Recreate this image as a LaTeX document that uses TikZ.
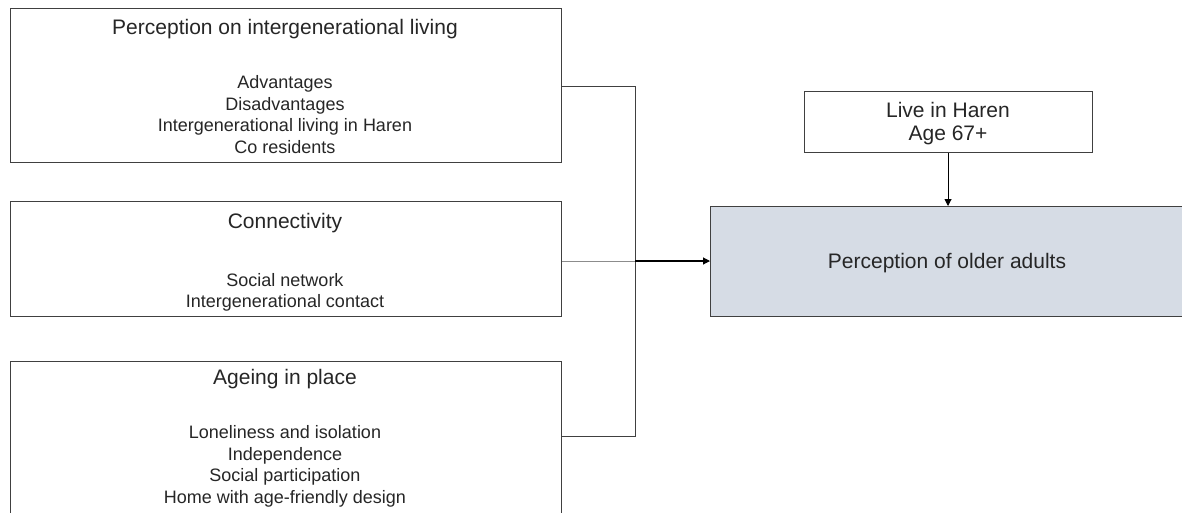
\documentclass[tikz,border=0pt]{standalone}
\usepackage{fontspec}
\setmainfont{Liberation Sans}
\usetikzlibrary{arrows.meta}
\definecolor{boxline}{HTML}{404040}
\definecolor{tgtfill}{HTML}{D6DCE5}
\definecolor{lightline}{HTML}{8C8C8C}
\tikzset{
  box/.style={draw=boxline, line width=1pt, fill=white, anchor=north west, inner sep=0pt},
  txt/.style={inner sep=0pt, anchor=base, font=\fontsize{18}{21}\selectfont, text=black!85},
  ttl/.style={inner sep=0pt, anchor=base, font=\fontsize{21}{24}\selectfont, text=black!85},
  conn/.style={draw=boxline, line width=1pt},
  arr/.style={draw=black, line width=1.1pt, -{Triangle[length=7pt,width=7pt]}},
}
\begin{document}
\begin{tikzpicture}[x=1pt,y=-1pt]
\useasboundingbox (0,0) rectangle (1182,512);
\clip (0,0) rectangle (1182,512);
\fill[white] (0,0) rectangle (1182,512);
% left boxes
\node[box, minimum width=551pt, minimum height=154pt] (b1) at (10,8) {};
\node[box, minimum width=551pt, minimum height=115pt] (b2) at (10,201) {};
\node[box, minimum width=551pt, minimum height=152pt] (b3) at (10,361) {};
% right boxes
\node[box, minimum width=288pt, minimum height=61pt] (live) at (804,91) {};
\node[box, fill=tgtfill, minimum width=500pt, minimum height=110pt] (tgt) at (710,206) {};
% texts
\node[ttl] (t1) at (285,34) {Perception on intergenerational living};
\node[txt] (t1a) at (285,88) {Advantages};
\node[txt] (t1b) at (285,110) {Disadvantages};
\node[txt] (t1c) at (285,131.5) {Intergenerational living in Haren};
\node[txt] (t1d) at (285,153) {Co residents};
\node[ttl] (t2) at (285,228) {Connectivity};
\node[txt] (t2a) at (285,286) {Social network};
\node[txt] (t2b) at (285,307.5) {Intergenerational contact};
\node[ttl] (t3) at (285,384) {Ageing in place};
\node[txt] (t3a) at (285,438) {Loneliness and isolation};
\node[txt] (t3b) at (285,460) {Independence};
\node[txt] (t3c) at (285,481.5) {Social participation};
\node[txt] (t3d) at (285,503) {Home with age-friendly design};
\node[ttl] (tl1) at (948,117) {Live in Haren};
\node[ttl] (tl2) at (948,140) {Age 67+};
\node[ttl] (tt) at (947,268) {Perception of older adults};
% connectors
\coordinate (j1) at (635,86);
\coordinate (j3) at (635,436);
\coordinate (jm) at (635,261);
\draw[conn] (b1.east |- j1) -- (j1) -- (j3) -- (b3.east |- j3);
\draw[draw=lightline, line width=1pt] (b2.east |- jm) -- (jm);
\draw[arr] (jm) -- (tgt.west |- jm);
\draw[draw=black, line width=1pt, -{Triangle[length=7pt,width=7pt]}] (live.south -| 948,0) -- (tgt.north -| 948,0);
\end{tikzpicture}
\end{document}
